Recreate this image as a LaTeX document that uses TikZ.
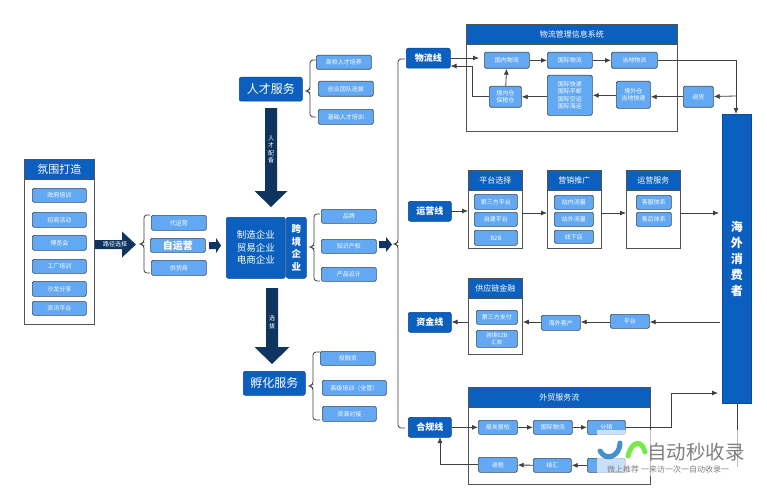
\documentclass[tikz,border=0pt]{standalone}
\usepackage{fontspec}
\setmainfont{Noto Sans CJK SC}
\usetikzlibrary{arrows.meta,calc}
\definecolor{hdr}{HTML}{0B5FBF}
\definecolor{itm}{HTML}{62A8F2}
\definecolor{edge}{HTML}{3A4A5C}
\definecolor{navy}{HTML}{0F3460}
\definecolor{ln}{HTML}{404040}
\tikzset{
 x=1pt,y=-1pt,
 box/.style={draw=edge,line width=.7pt,rounded corners=1.5pt,fill=itm,text=white,inner sep=0pt,align=center,font=\fontsize{6}{7.5}\selectfont},
 lead/.style={draw=hdr!70!black,line width=.5pt,rounded corners=2pt,fill=hdr,text=white,inner sep=0pt,align=center},
 frame/.style={draw=ln!90,line width=.8pt,fill=white},
 head/.style={draw=ln!90,line width=.8pt,fill=hdr,text=white,inner sep=0pt,align=center,font=\fontsize{8}{10}\selectfont},
 conn/.style={draw=ln,line width=.8pt,-{Latex[length=6pt,width=5pt]}},
 plain/.style={draw=ln,line width=.8pt},
 brc/.style={draw=ln,line width=.8pt,rounded corners=3pt},
}
\newcommand{\rb}[7]{\node[#6,minimum width=#4pt-#2pt,minimum height=#5pt-#3pt,anchor=north west] (#1) at (#2,#3) {#7};}
\newcommand{\brc}[5]{\draw[brc] (#2,#3) -- (#1+5,#3) -- (#1+5,#4-1) -- (#1,#4) -- (#1+5,#4+1) -- (#1+5,#5) -- (#2,#5);}
\newcommand{\harrow}[6]{\fill[navy] (#1,#2-#4) -- (#3,#2-#4) -- (#3,#2-#5) -- (#6,#2) -- (#3,#2+#5) -- (#3,#2+#4) -- (#1,#2+#4) -- cycle;}
\newcommand{\varrow}[6]{\fill[navy] (#1-#4,#2) -- (#1-#4,#3) -- (#1-#5,#3) -- (#1,#6) -- (#1+#5,#3) -- (#1+#4,#3) -- (#1+#4,#2) -- cycle;}
\begin{document}
\begin{tikzpicture}
\useasboundingbox (0,0) rectangle (767,500);
\fill[white] (0,0) rectangle (767,500);
% left panel
\rb{lf}{24}{159}{94}{324}{frame}{}
\rb{lh}{24}{159}{94}{179}{head,font=\fontsize{11}{13}\selectfont}{氛围打造}
\rb{l1}{32}{188}{86}{202}{box}{政府培训}
\rb{l2}{32}{212}{86}{227}{box}{招商活动}
\rb{l3}{32}{235}{86}{250}{box}{博览会}
\rb{l4}{32}{259}{86}{273}{box}{工厂培训}
\rb{l5}{32}{281}{86}{296}{box}{沙龙分享}
\rb{l6}{32}{301}{86}{315}{box}{资讯平台}
\harrow{95}{244.5}{122}{4.5}{13}{136}
\node[text=white,font=\fontsize{6}{7}\selectfont,inner sep=0pt] (pathlbl) at (115,244.5) {路径选择};
\brc{139}{150}{215}{244}{273}
\rb{a1}{151}{215}{206}{230}{box}{代运营}
\rb{a2}{150}{238}{205}{252}{box,font=\fontsize{10}{12}\selectfont\bfseries}{自运营}
\rb{a3}{151}{260}{206}{275}{box}{供货商}
\harrow{209}{245.5}{216}{3.5}{7.5}{221}
% main
\rb{m1}{226}{217}{285}{278}{lead,font=\fontsize{9.5}{12.5}\selectfont}{制造企业\\贸易企业\\电商企业}
\rb{m2}{286}{217}{306}{278}{lead,font=\fontsize{9.5}{12.5}\selectfont\bfseries}{跨\\境\\企\\业}
\rb{t}{239}{77}{302}{101}{lead,font=\fontsize{12}{14}\selectfont}{人才服务}
\rb{f}{243}{371}{305}{395}{lead,font=\fontsize{12}{14}\selectfont}{孵化服务}
\varrow{271}{108}{191}{6}{16.5}{207}
\node[text=white,font=\fontsize{6}{7.5}\selectfont,inner sep=0pt,align=center] (vl1) at (271,149) {人\\才\\配\\备};
\varrow{272}{288}{347}{6}{17.5}{364}
\node[text=white,font=\fontsize{6}{7.5}\selectfont,inner sep=0pt,align=center] (vl2) at (272,322) {选\\拔};
% talent
\brc{305}{316}{60}{91}{117}
\rb{t1}{316}{55}{371}{69}{box}{高校人才培养}
\rb{t2}{318}{81}{373}{96}{box}{创业团队选拔}
\rb{t3}{318}{109}{373}{124}{box}{基础人才培训}
\brc{309}{320}{214}{247}{281}
\rb{b1}{321}{209}{376}{223}{box}{品牌}
\rb{b2}{321}{239}{376}{253}{box}{知识产权}
\rb{b3}{321}{267}{376}{281}{box}{产品设计}
\harrow{379}{244.5}{386}{3.5}{7.5}{392}
\brc{308}{320}{352}{386}{420}
\rb{c1}{320}{351}{375}{365}{box}{投融资}
\rb{c2}{322}{380}{386}{395}{box}{高级培训（全管）}
\rb{c3}{322}{406}{376}{421}{box}{资源对接}
\brc{393}{405}{59}{244}{428}
% lines
\rb{L1}{406}{48}{450}{68}{lead,font=\fontsize{9}{11}\selectfont\bfseries}{物流线}
\rb{L2}{408}{201}{451}{221}{lead,font=\fontsize{9}{11}\selectfont\bfseries}{运营线}
\rb{L3}{408}{312}{451}{332}{lead,font=\fontsize{9}{11}\selectfont\bfseries}{资金线}
\rb{L4}{408}{417}{451}{437}{lead,font=\fontsize{9}{11}\selectfont\bfseries}{合规线}
% consumer
\rb{C}{722}{114}{751}{403}{lead,rounded corners=0pt,draw=hdr!80!black,font=\fontsize{12}{16}\selectfont\bfseries}{海\\外\\消\\费\\者}
% logistics
\rb{s1}{466}{24}{677}{131}{frame}{}
\rb{s1h}{466}{24}{677}{44}{head}{物流管理信息系统}
\rb{p1}{484}{52}{529}{68}{box}{国内物流}
\rb{p2}{547}{52}{592}{68}{box}{国际物流}
\rb{p3}{611}{52}{657}{68}{box}{当地物流}
\rb{p4}{489}{86}{521}{107}{box}{境内仓\\保税仓}
\rb{p5}{547}{75}{592}{115}{box}{国际快递\\国际平邮\\国际空运\\国际海运}
\rb{p6}{616}{81}{650}{108}{box}{境外仓\\当地快递}
\rb{p7}{683}{86}{713}{107}{box}{退货}
\coordinate (q1) at (479,58);
\draw[conn] (L1.east|-q1) -- (q1);
\draw[conn] (p1) -- (p2);
\draw[conn] (p2) -- (p3);
\draw[conn] (p3.east) -| (C.north-|736,0);
\coordinate (q2) at (736,96);
\draw[conn] (q2) -- (p7);
\draw[conn] (p7) -- (p7-|p6.east);
\draw[conn] (p6.west|-p5) -- (p5);
\draw[conn] (p5.west|-p4) -- (p4);
\draw[conn] (p4) -- (p1);
\coordinate (q3) at (472,66);
\draw[plain] (p4.west) -| (q3);
\draw[conn] (q3) -- (L1.east|-q3);
% ops
\rb{s2}{468}{170}{522}{248}{frame}{}
\rb{s2h}{468}{170}{522}{190}{head}{平台选择}
\rb{o1}{474}{194}{517}{209}{box}{第三方平台}
\rb{o2}{474}{212}{517}{226}{box}{自建平台}
\rb{o3}{474}{230}{517}{245}{box}{B2B}
\rb{s3}{547}{170}{601}{248}{frame}{}
\rb{s3h}{547}{170}{601}{190}{head}{营销推广}
\rb{o4}{554}{195}{593}{209}{box}{站内流量}
\rb{o5}{554}{212}{593}{226}{box}{站外流量}
\rb{o6}{554}{230}{593}{243}{box}{线下店}
\rb{s4}{626}{170}{680}{248}{frame}{}
\rb{s4h}{626}{170}{680}{190}{head}{运营服务}
\rb{o7}{636}{195}{671}{209}{box}{客服体系}
\rb{o8}{636}{212}{671}{226}{box}{售后体系}
\coordinate (r0) at (451,211);
\draw[conn] (r0) -- (r0-|s2.west);
\coordinate (r1) at (522,213);
\draw[conn] (r1) -- (r1-|s3.west);
\coordinate (r2) at (601,213);
\draw[conn] (r2) -- (r2-|s4.west);
\coordinate (r3) at (680,213);
\coordinate (r4) at (719,213);
\draw[conn] (r3) -- (r4);
% finance
\rb{s5}{468}{278}{522}{354}{frame}{}
\rb{s5h}{468}{278}{522}{298}{head}{供应链金融}
\rb{g1}{476}{310}{517}{324}{box}{第三方支付}
\rb{g2}{476}{330}{517}{347}{box,font=\fontsize{5.5}{6.5}\selectfont}{跨境EZB\\汇款}
\rb{g3}{541}{315}{580}{330}{box}{海外客户}
\rb{g4}{610}{314}{649}{328}{box}{平台}
\coordinate (u0) at (720,322);
\draw[conn] (u0) -- (u0-|g4.east);
\draw[conn] (g4.west|-u0) -- (g3.east|-u0);
\draw[conn] (g3.west|-u0) -- (s5.east|-u0);
\draw[conn] (s5.west|-u0) -- (L3.east|-u0);
% trade
\rb{s6}{468}{387}{650}{484}{frame}{}
\rb{s6h}{468}{387}{650}{407}{head}{外贸服务流}
\rb{h1}{478}{420}{517}{434}{box}{报关报检}
\rb{h2}{533}{420}{572}{434}{box}{国际物流}
\rb{h3}{587}{420}{625}{434}{box}{分销}
\rb{h4}{478}{457}{517}{472}{box}{退税}
\rb{h5}{533}{458}{571}{472}{box}{结汇}
\rb{h6}{587}{458}{625}{472}{box}{}
\draw[conn] (L4.east|-h1) -- (h1);
\draw[conn] (h1) -- (h2);
\draw[conn] (h2) -- (h3);
\coordinate (v1) at (671,393);
\coordinate (v2) at (718,393);
\draw[plain] (h3.east) -| (v1);
\draw[conn] (v1) -- (v2);
\draw[conn] (h6) -- (h5);
\draw[conn] (h5) -- (h4);
\coordinate (v3) at (440,437);
\draw[conn] (h4.west) -| (v3);
\coordinate (v4) at (737,403);
\coordinate (v5) at (737,467);
\draw[plain] (v4) -- (v5);
% watermark
\fill[white,opacity=.65] (597,430) rectangle (747,476);
\draw[line width=5pt,color=cyan!55!blue,opacity=.8,line cap=round] (620,443) .. controls (620,456) and (606,462) .. (600,451);
\draw[line width=5pt,color=green!70!yellow!80!gray,opacity=.8,line cap=round] (628,456) .. controls (632,440) and (642,440) .. (645,452);
\node[text=gray,font=\fontsize{19.5}{21}\selectfont,inner sep=0pt,anchor=west] (wm1) at (647,452) {自动秒收录};
\node[text=gray,font=\fontsize{8}{9}\selectfont,inner sep=0pt,anchor=west] (wm2) at (607,469) {微上推荐 一来访一次一自动收录一};
\end{tikzpicture}
\end{document}
